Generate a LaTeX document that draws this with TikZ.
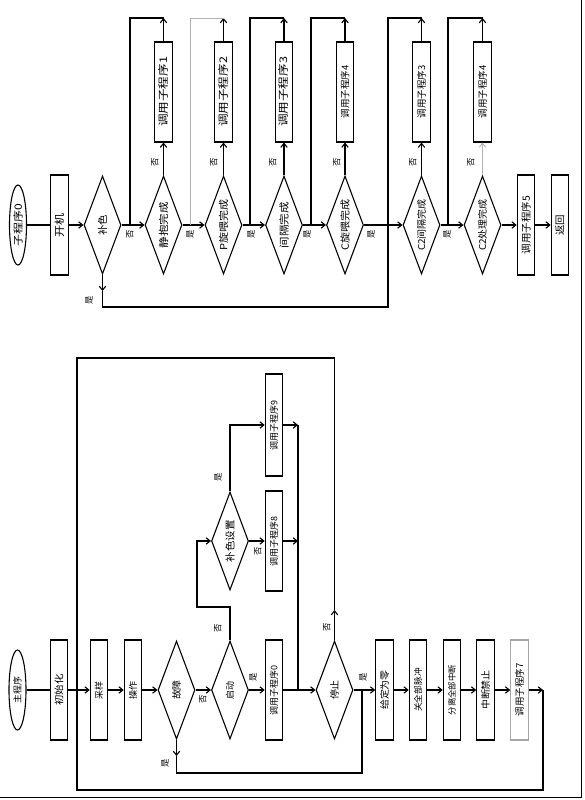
\documentclass[tikz,border=0pt]{standalone}
\usepackage{fontspec}
\setmainfont{Noto Sans CJK SC}
\usetikzlibrary{shapes.geometric,arrows.meta}
\newcommand\rt[3]{\rotatebox{90}{\scalebox{#1}[1]{\fontsize{#2pt}{#2pt}\selectfont #3}}}
\begin{document}
\begin{tikzpicture}[x=1pt,y=-1pt,line width=1.1pt,
  bx/.style={draw,rectangle,minimum width=17.5pt,minimum height=100pt,inner sep=0pt},
  dm/.style={draw,diamond,minimum width=37pt,minimum height=98pt,inner sep=0pt},
  el/.style={draw,ellipse,minimum width=17pt,minimum height=80pt,inner sep=0pt},
  arr/.style={-{Straight Barb[length=4pt,width=6.5pt]}},
  lb/.style={inner sep=0pt,font=\fontsize{8.5pt}{8.5pt}\selectfont},
  gl/.style={draw=gray!60,line width=0.9pt}]
\useasboundingbox (0,0) rectangle (584,800);
% frame
\draw[line width=0.8pt] (581,0) -- (581,797) -- (0,797);

% ================= top chart =================
\node[el,label=center:{\rt{1.2}{10}{子程序0}}] (s0) at (18,225) {};
\node[bx] (kj) at (59.5,225) {\rt{1.15}{10.5}{开机}};
\node[dm,label=center:{\rt{1.05}{10}{补色}}] (bs) at (102.5,225) {};
\node[dm,label=center:{\rt{1.15}{10}{静抱完成}}] (d1) at (163.5,225) {};
\node[dm,label=center:{\rt{1.1}{10}{P旋喂完成}}] (d2) at (223.5,225) {};
\node[dm,label=center:{\rt{1.15}{10}{间隔完成}}] (d3) at (284,225) {};
\node[dm,label=center:{\rt{1.1}{10}{C旋喂完成}}] (d4) at (345,225) {};
\node[dm,label=center:{\rt{1.05}{9.5}{C2间隔完成}}] (d5) at (421.5,225) {};
\node[dm,label=center:{\rt{1.05}{9.5}{C2处理完成}}] (d6) at (482.5,225) {};
\node[bx] (b1) at (163.5,92) {\rt{1.2}{10.5}{调用子程序1}};
\node[bx] (b2) at (223.5,92) {\rt{1.2}{10.5}{调用子程序2}};
\node[bx] (b3) at (284,92) {\rt{1.2}{10.5}{调用子程序3}};
\node[bx] (b4) at (345,92) {\rt{1}{9.5}{调用子程序4}};
\node[bx] (b5) at (421.5,92) {\rt{1}{9.5}{调用子程序3}};
\node[bx] (b6) at (482.5,92) {\rt{1}{9.5}{调用子程序4}};
\node[bx] (c5) at (526,225) {\rt{1.05}{10}{调用子程序5}};
\node[bx] (fh) at (560,225) {\rt{1.05}{10}{返回}};

\draw (s0.east) -- (kj.west);
\draw[arr] (kj.east) -- (bs.west);
\draw[arr] (bs.east) -- (d1.west);
\draw[arr] (d1.east) -- (d2.west);
\draw[arr] (d2.east) -- (d3.west);
\draw[arr] (d3.east) -- (d4.west);
\draw[arr] (d4.east) -- (d5.west);
\draw[arr] (d5.east) -- (d6.west);
\draw[arr] (d6.east) -- (c5.west);
\draw[arr] (c5.east) -- (fh.west);

\coordinate (t1) at (163.5,18); \coordinate (u1) at (130,18); \coordinate (v1) at (130,225);
\coordinate (t2) at (223.5,18); \coordinate (u2) at (190,18); \coordinate (v2) at (190,225);
\coordinate (t3) at (284,18);   \coordinate (u3) at (250,18); \coordinate (v3) at (250,225);
\coordinate (t4) at (345,18);   \coordinate (u4) at (311,18); \coordinate (v4) at (311,225);
\coordinate (t5) at (421.5,18); \coordinate (u5) at (388,18); \coordinate (v5) at (388,225);
\coordinate (t6) at (482.5,18); \coordinate (u6) at (448,18); \coordinate (v6) at (448,225);

\draw[arr] (d1.north) -- (b1.south); \draw[arr] (b1.north) -- (t1); \draw (t1) -- (u1) -- (v1);
\draw[arr] (d2.north) -- (b2.south); \draw[arr] (b2.north) -- (t2); \draw[gl] (t2) -- (u2) -- (v2);
\draw[arr] (d3.north) -- (b3.south); \draw[arr] (b3.north) -- (t3); \draw (t3) -- (u3) -- (v3);
\draw[arr] (d4.north) -- (b4.south); \draw[arr] (b4.north) -- (t4); \draw (t4) -- (u4) -- (v4);
\draw[arr] (d5.north) -- (b5.south); \draw[arr] (b5.north) -- (t5); \draw (t5) -- (u5) -- (v5);
\draw[arr,gl] (d6.north) -- (b6.south); \draw[arr] (b6.north) -- (t6); \draw (t6) -- (u6) -- (v6);

\coordinate (bsA) at (102.5,291); \coordinate (bsB) at (102.5,307); \coordinate (bsC) at (388,307);
\draw[arr] (bs.south) -- (bsA);
\draw (bsA) -- (bsB) -- (bsC) -- (v5);

\node[lb] (l0) at (130,234) {\rotatebox{90}{否}};
\node[lb] (l00) at (89,300) {\rotatebox{90}{是}};
\node[lb] (n1) at (155,162) {\rotatebox{90}{否}};
\node[lb] (n2) at (214,162) {\rotatebox{90}{否}};
\node[lb] (n3) at (273,162) {\rotatebox{90}{否}};
\node[lb] (n4) at (337,162) {\rotatebox{90}{否}};
\node[lb] (n5) at (413,162) {\rotatebox{90}{否}};
\node[lb] (n6) at (471,162) {\rotatebox{90}{否}};
\node[lb] (y1) at (190,234) {\rotatebox{90}{是}};
\node[lb] (y2) at (251,234) {\rotatebox{90}{是}};
\node[lb] (y3) at (307,234) {\rotatebox{90}{是}};
\node[lb] (y4) at (371,234) {\rotatebox{90}{是}};
\node[lb] (y5) at (447,234) {\rotatebox{90}{是}};

% ================= bottom chart =================
\node[el,label=center:{\rt{1}{9}{主程序}}] (m0) at (17.5,690) {};
\node[bx] (cs) at (59,690) {\rt{1.1}{9.5}{初始化}};
\node[bx] (cy) at (99,690) {\rt{1}{9}{采样}};
\node[bx] (cz) at (133,690) {\rt{1}{9}{操作}};
\node[dm,label=center:{\rt{1.05}{9.5}{故障}}] (gz) at (176.5,690) {};
\node[dm,label=center:{\rt{1}{9}{启动}}] (qd) at (230,690) {};
\node[bx] (c0) at (274,690) {\rt{1}{9}{调用子程序0}};
\node[dm,label=center:{\rt{1.05}{9.5}{停止}}] (tz) at (334.5,690) {};
\node[bx] (g1) at (384.5,690) {\rt{1.05}{9.5}{给定为零}};
\node[bx] (g2) at (418,690) {\rt{1}{8.7}{关全部脉冲}};
\node[bx] (g3) at (452,690) {\rt{1}{8.4}{分离全部中断}};
\node[bx] (g4) at (485.5,690) {\rt{1.05}{9.5}{中断禁止}};
\node[bx,draw=gray!70] (g5) at (519.5,690) {\rt{1}{9.5}{调用子程序7}};
\node[dm,label=center:{\rt{1.05}{10}{补色设置}}] (bz) at (230,541) {};
\node[bx] (c8) at (274,541) {\rt{1}{9}{调用子程序8}};
\node[bx,minimum height=102pt] (c9) at (274,425) {\rt{1}{9}{调用子程序9}};

\draw (m0.east) -- (cs.west);
\draw[arr] (cs.east) -- (cy.west);
\draw[arr] (cy.east) -- (cz.west);
\draw[arr] (cz.east) -- (gz.west);
\draw[arr] (gz.east) -- (qd.west);
\draw[arr] (qd.east) -- (c0.west);
\coordinate (j1) at (298,690);
\draw (c0.east) -- (j1);
\draw[arr] (j1) -- (tz.west);
\draw[arr] (tz.east) -- (g1.west);
\draw[arr] (g1.east) -- (g2.west);
\draw[arr] (g2.east) -- (g3.west);
\draw[arr] (g3.east) -- (g4.west);
\draw[arr] (g4.east) -- (g5.west);
\coordinate (e7) at (543,690);
\draw[arr] (g5.east) -- (e7);
\coordinate (tzA) at (334.5,610);
\coordinate (r1) at (543,790); \coordinate (r2) at (77,790);
\coordinate (r3) at (77,358); \coordinate (r4) at (334.5,358);
\draw (e7) -- (r1) -- (r2) -- (r3) -- (r4) -- (tzA);
\draw[arr] (tz.north) -- (tzA);

\coordinate (gzA) at (176.5,756); \coordinate (gzB) at (176.5,773);
\coordinate (gzC) at (362,773); \coordinate (gzD) at (362,690);
\draw[arr] (gz.south) -- (gzA);
\draw (gzA) -- (gzB) -- (gzC) -- (gzD);

\coordinate (q1) at (230,607); \coordinate (q2) at (197,607); \coordinate (q3) at (197,541);
\draw[arr] (qd.north) -- (q1) -- (q2) -- (q3) -- (bz.west);
\draw[arr] (bz.east) -- (c8.west);
\coordinate (z1) at (230,425);
\draw[arr] (bz.north) -- (z1) -- (c9.west);
\coordinate (j8) at (298,541); \coordinate (j9) at (298,425);
\draw[arr] (c8.east) -- (j8);
\draw[arr] (c9.east) -- (j9);
\draw (j9) -- (j1);

\node[lb] (k1) at (165,763) {\rotatebox{90}{是}};
\node[lb] (k2) at (203,699) {\rotatebox{90}{否}};
\node[lb] (k3) at (253,677) {\rotatebox{90}{是}};
\node[lb] (k4) at (218,628) {\rotatebox{90}{否}};
\node[lb] (k5) at (258,551) {\rotatebox{90}{否}};
\node[lb] (k6) at (218,477) {\rotatebox{90}{是}};
\node[lb] (k7) at (327,627) {\rotatebox{90}{否}};
\node[lb] (k8) at (363,677) {\rotatebox{90}{是}};
\end{tikzpicture}
\end{document}
